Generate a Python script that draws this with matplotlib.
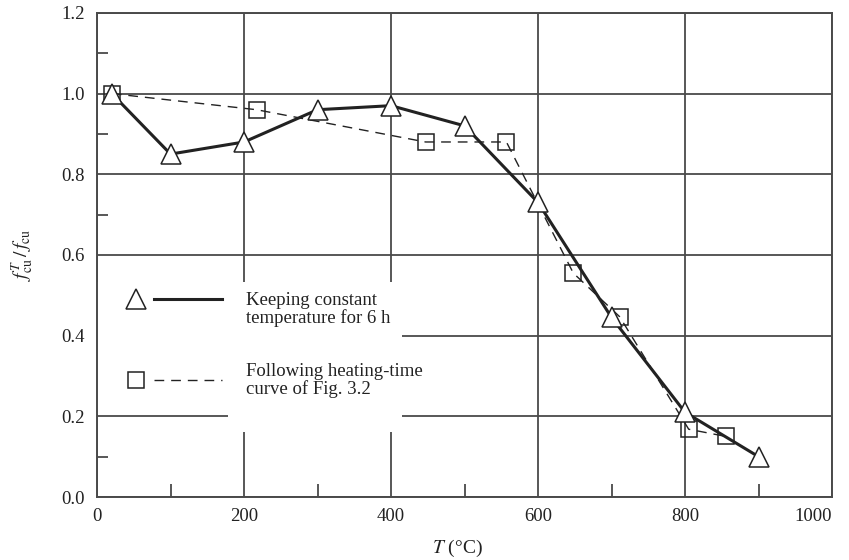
import numpy as np
import matplotlib
matplotlib.use('Agg')
import matplotlib.pyplot as plt
from matplotlib.lines import Line2D
from matplotlib.patches import Polygon
from matplotlib.legend_handler import HandlerBase
from matplotlib.ticker import MultipleLocator

# constant temperature for 6 h (triangles, solid)
T_const = [20, 100, 200, 300, 400, 500, 600, 700, 800, 900]
r_const = [1.00, 0.85, 0.88, 0.96, 0.97, 0.92, 0.73, 0.445, 0.21, 0.10]

# following heating-time curve (squares, dashed)
T_curve = [20, 217, 447, 557, 648, 711, 805, 856]
r_curve = [1.00, 0.96, 0.88, 0.88, 0.555, 0.447, 0.168, 0.150]

lab_const = 'Keeping constant\ntemperature for 6 h'
lab_curve = 'Following heating-time\ncurve of Fig. 3.2'

x_ticks = [0, 200, 400, 600, 800, 1000]
x_ticklabels = ['0', '200', '400', '600', '800', '1000']

plt.rcParams['font.family'] = ['Liberation Serif', 'DejaVu Serif']
plt.rcParams['mathtext.fontset'] = 'stix'
plt.rcParams['font.size'] = 13

ink = '#222222'
gcol = '#4a4a4a'


class MarkThenLine(HandlerBase):
    # marker on the left, a separate line segment to the right of it
    def __init__(self, lift=0.0, **kw):
        super().__init__(**kw)
        self.lift = lift

    def create_artists(self, legend, orig, xdescent, ydescent, width, height,
                       fontsize, trans):
        y = height / 2.0 - ydescent + self.lift * fontsize
        x0 = -xdescent
        m = Line2D([x0 + 0.105 * width], [y], linestyle='none')
        m.update_from(orig)
        m.set_linestyle('none')
        l = Line2D([x0 + 0.295 * width, x0 + width], [y, y])
        l.update_from(orig)
        l.set_marker('None')
        m.set_transform(trans)
        l.set_transform(trans)
        return [l, m]


fig = plt.figure(figsize=(8.49, 5.6), dpi=100)
ax = fig.add_axes([0.1143, 0.1125, 0.8657, 0.8645])

ax.set_xlim(0, 1000)
ax.set_ylim(0, 1.2)
ax.set_xticks(x_ticks, labels=x_ticklabels)
ax.xaxis.set_minor_locator(MultipleLocator(100))
ax.yaxis.set_major_locator(MultipleLocator(0.2))
ax.yaxis.set_minor_locator(MultipleLocator(0.1))
ax.yaxis.set_major_formatter(plt.FormatStrFormatter('%.1f'))

ax.grid(True, which='major', color=gcol, linewidth=1.3, zorder=1)
ax.tick_params(which='major', length=0, labelsize=13.5, colors=ink)
ax.tick_params(axis='x', which='major', pad=8)
ax.tick_params(axis='y', which='major', pad=9)
ax.tick_params(which='minor', direction='in', color=gcol, width=1.3)
ax.tick_params(axis='x', which='minor', length=9.5)
ax.tick_params(axis='y', which='minor', length=8)
for s in ax.spines.values():
    s.set_color(gcol)
    s.set_linewidth(1.4)

# "1000" sits a little left of its tick so it stays inside the figure
ax.get_xticklabels()[-1].set_horizontalalignment('right')

# white area behind the legend hides the grid
blank = Polygon([[0, 0.205], [178, 0.205], [178, 0.160], [415, 0.160],
                 [415, 0.532], [0, 0.532]], closed=True,
                facecolor='white', edgecolor='none', zorder=2)
ax.add_patch(blank)

h1, = ax.plot(T_const, r_const, color=ink, linewidth=2.2, marker='^',
              markersize=14, markerfacecolor='white', markeredgecolor=ink,
              markeredgewidth=1.1, zorder=4, clip_on=False)
h2, = ax.plot(T_curve, r_curve, color=ink, linewidth=1.0,
              linestyle=(0, (7, 5)), marker='s', markersize=12,
              markerfacecolor='none', markeredgecolor=ink,
              markeredgewidth=1.1, zorder=3, clip_on=False)

leg = ax.legend([h1, h2], [lab_const, lab_curve],
                handler_map={h1: MarkThenLine(lift=0.55),
                             h2: MarkThenLine(lift=0.0)},
                loc='upper left', bbox_to_anchor=(0.040, 0.423),
                frameon=False, borderpad=0, borderaxespad=0,
                handlelength=5.07, handletextpad=1.33, labelspacing=1.9,
                fontsize=13.5)
leg.set_zorder(5)
for t in leg.get_texts():
    t.set_color(ink)
    t.set_linespacing(1.0)

ax.set_xlabel(r'$T$ (°C)', fontsize=14, color=ink)
ax.set_ylabel(r'$f_{\rm cu}^{T}\,/\,f_{\rm cu}$', fontsize=14, color=ink)
ax.xaxis.set_label_coords(0.49, -0.085)
ax.yaxis.set_label_coords(-0.085, 0.5)

plt.savefig('out.png', dpi=100)
